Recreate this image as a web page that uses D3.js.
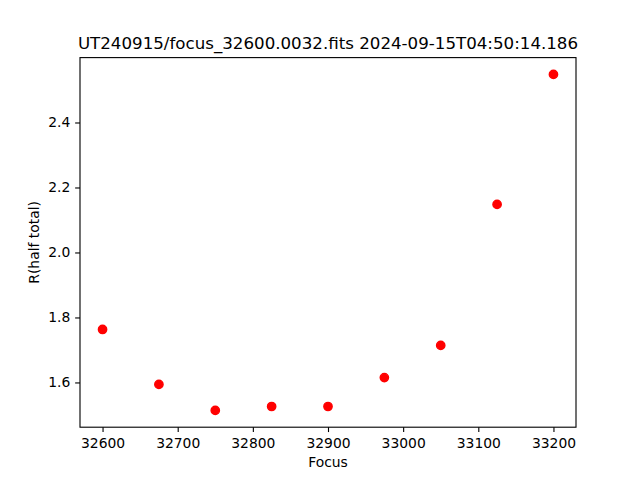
<!DOCTYPE html>
<html>
<head>
<meta charset="utf-8">
<script src="https://cdn.jsdelivr.net/npm/d3@7"></script>
<style>
  body { margin: 0; background: #fff; }
  text { font-family: "DejaVu Sans", sans-serif; fill: #000; }
</style>
</head>
<body>
<div id="chart"></div>
<script>
// focus positions and measured half-total radius
var focusVals = [32600, 32675, 32750, 32825, 32900, 32975, 33050, 33125, 33200];
var rHalf = [1.763, 1.594, 1.514, 1.526, 1.526, 1.615, 1.714, 2.148, 2.548];
var xTicks = [32600, 32700, 32800, 32900, 33000, 33100, 33200];
var yTicks = [1.6, 1.8, 2.0, 2.2, 2.4];
var titleText = "UT240915/focus_32600.0032.fits 2024-09-15T04:50:14.186";

var W = 640, H = 480;
// axes box (matplotlib default subplot params)
var axL = 80, axR = 576, axT = 57.6, axB = 427.2;

var svg = d3.select("#chart").append("svg")
    .attr("width", W)
    .attr("height", H);

// matplotlib style 5% margins
var xmin = d3.min(focusVals), xmax = d3.max(focusVals);
var ymin = d3.min(rHalf), ymax = d3.max(rHalf);
var xm = (xmax - xmin) * 0.05, ym = (ymax - ymin) * 0.05;

var x = d3.scaleLinear().domain([xmin - xm, xmax + xm]).range([axL, axR]);
var y = d3.scaleLinear().domain([ymin - ym, ymax + ym]).range([axB, axT]);

var xAxis = svg.append("g")
    .attr("transform", "translate(0," + axB + ")")
    .call(d3.axisBottom(x).tickValues(xTicks).tickFormat(d3.format("d")).tickSize(4.86).tickPadding(3.5));
var yAxis = svg.append("g")
    .attr("transform", "translate(" + axL + ",0)")
    .call(d3.axisLeft(y).tickValues(yTicks).tickFormat(d3.format(".1f")).tickSize(4.86).tickPadding(4.86));

[xAxis, yAxis].forEach(function(g) {
    g.select(".domain").remove();
    g.selectAll(".tick line").attr("stroke", "#000").attr("stroke-width", 1.11);
    g.selectAll(".tick text")
        .attr("font-family", "DejaVu Sans")
        .attr("font-size", "13.89px")
        .attr("fill", "#000");
});
xAxis.selectAll(".tick text").attr("dy", "0.9em");

// frame
svg.append("rect")
    .attr("x", axL).attr("y", axT)
    .attr("width", axR - axL).attr("height", axB - axT)
    .attr("fill", "none")
    .attr("stroke", "#000")
    .attr("stroke-width", 1.11);

svg.append("g").selectAll("circle")
    .data(focusVals)
    .join("circle")
    .attr("cx", function(d) { return x(d); })
    .attr("cy", function(d, i) { return y(rHalf[i]); })
    .attr("r", 4.17)
    .attr("fill", "red")
    .attr("stroke", "red")
    .attr("stroke-width", 1.39);

svg.append("text")
    .attr("x", (axL + axR) / 2)
    .attr("y", 49.3)
    .attr("text-anchor", "middle")
    .attr("font-size", "16.67px")
    .text(titleText);

svg.append("text")
    .attr("x", (axL + axR) / 2)
    .attr("y", 467)
    .attr("text-anchor", "middle")
    .attr("font-size", "13.89px")
    .text("Focus");

svg.append("text")
    .attr("transform", "translate(39," + ((axT + axB) / 2) + ") rotate(-90)")
    .attr("text-anchor", "middle")
    .attr("font-size", "13.89px")
    .text("R(half total)");
</script>
</body>
</html>
